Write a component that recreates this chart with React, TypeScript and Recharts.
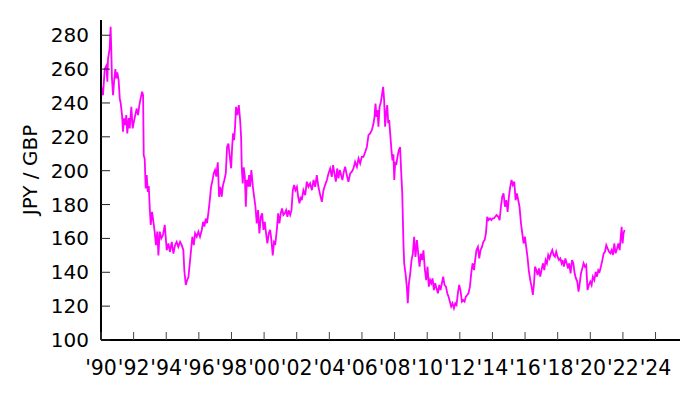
import { LineChart, Line, XAxis, YAxis, Label } from 'recharts';

// JPY per GBP
const years = [
  1990.0, 1990.02, 1990.12, 1990.23, 1990.33, 1990.39, 1990.43, 1990.53, 1990.59, 1990.63,
  1990.67, 1990.74, 1990.8, 1990.88, 1990.94, 1991.0, 1991.08, 1991.15, 1991.21, 1991.29,
  1991.35, 1991.41, 1991.49, 1991.55, 1991.61, 1991.7, 1991.76, 1991.86, 1991.94, 1992.02,
  1992.1, 1992.19, 1992.27, 1992.35, 1992.43, 1992.52, 1992.58, 1992.62, 1992.68, 1992.74,
  1992.8, 1992.87, 1992.93, 1992.99, 1993.05, 1993.13, 1993.21, 1993.29, 1993.37, 1993.45,
  1993.52, 1993.6, 1993.7, 1993.8, 1993.91,
  1994.03, 1994.13, 1994.23, 1994.34, 1994.44, 1994.54, 1994.64, 1994.74, 1994.85, 1994.95,
  1995.05, 1995.11, 1995.2, 1995.28, 1995.36, 1995.44, 1995.52, 1995.6, 1995.69, 1995.77,
  1995.87, 1995.97, 1996.07, 1996.18, 1996.26, 1996.34, 1996.42, 1996.5, 1996.58, 1996.67,
  1996.75, 1996.83, 1996.91, 1996.99, 1997.07, 1997.16, 1997.24, 1997.32, 1997.4, 1997.48,
  1997.56, 1997.65, 1997.73, 1997.81, 1997.9,
  1997.98, 1998.04, 1998.1, 1998.16, 1998.22, 1998.28, 1998.36, 1998.45, 1998.53, 1998.59,
  1998.63, 1998.69, 1998.75, 1998.82, 1998.88, 1998.94, 1999.02, 1999.08, 1999.14, 1999.22,
  1999.31, 1999.39, 1999.47, 1999.55, 1999.63, 1999.71, 1999.8, 1999.88, 1999.96, 2000.04,
  2000.12, 2000.2, 2000.29, 2000.37, 2000.45, 2000.53, 2000.61, 2000.69, 2000.78, 2000.86,
  2000.94, 2001.02, 2001.1, 2001.18, 2001.27, 2001.35, 2001.43, 2001.51, 2001.6, 2001.68,
  2001.76, 2001.84, 2001.92, 2002.01, 2002.09, 2002.17, 2002.25,
  2002.31, 2002.41, 2002.52, 2002.62, 2002.72, 2002.82, 2002.93, 2003.03, 2003.13, 2003.23,
  2003.33, 2003.44, 2003.54, 2003.64, 2003.74, 2003.85, 2003.95, 2004.05, 2004.15, 2004.23,
  2004.31, 2004.4, 2004.48, 2004.56, 2004.64, 2004.72, 2004.8, 2004.89, 2004.97, 2005.07,
  2005.17, 2005.28, 2005.38, 2005.48, 2005.58, 2005.69, 2005.79, 2005.89, 2005.99,
  2006.09, 2006.2, 2006.3, 2006.4, 2006.5, 2006.61, 2006.71, 2006.77, 2006.83, 2006.89,
  2006.95, 2007.01, 2007.08, 2007.16, 2007.24, 2007.3, 2007.36, 2007.42, 2007.48, 2007.55,
  2007.61, 2007.67, 2007.73, 2007.81, 2007.87, 2007.93, 2007.98, 2008.04, 2008.1, 2008.18,
  2008.26, 2008.34, 2008.4, 2008.47, 2008.51, 2008.55, 2008.59, 2008.67, 2008.75, 2008.81,
  2008.88, 2008.96, 2009.04, 2009.12, 2009.2, 2009.28, 2009.37, 2009.45, 2009.53, 2009.61,
  2009.69, 2009.77, 2009.86, 2009.94, 2010.02, 2010.1, 2010.18,
  2010.25, 2010.33, 2010.41, 2010.49, 2010.57, 2010.66, 2010.74, 2010.82, 2010.9, 2010.98,
  2011.06, 2011.15, 2011.23, 2011.31, 2011.39, 2011.47, 2011.55, 2011.64, 2011.72, 2011.8,
  2011.88, 2011.96, 2012.04, 2012.13, 2012.21, 2012.29, 2012.37, 2012.45, 2012.53, 2012.62,
  2012.7, 2012.78, 2012.87, 2012.94, 2013.02, 2013.11, 2013.19, 2013.27, 2013.36, 2013.44,
  2013.52, 2013.6, 2013.68, 2013.76, 2013.85, 2013.93, 2014.01, 2014.09, 2014.17, 2014.25,
  2014.36, 2014.44, 2014.52, 2014.6, 2014.68, 2014.77, 2014.85, 2014.93, 2015.01, 2015.09,
  2015.17, 2015.25, 2015.34, 2015.42, 2015.5, 2015.58, 2015.66, 2015.75, 2015.83, 2015.91,
  2015.99, 2016.07, 2016.15, 2016.23, 2016.32, 2016.4, 2016.48, 2016.55, 2016.61, 2016.69,
  2016.77, 2016.85, 2016.93, 2017.01, 2017.09, 2017.18, 2017.26, 2017.34, 2017.42, 2017.5,
  2017.59, 2017.67, 2017.75, 2017.83, 2017.91, 2017.99, 2018.08, 2018.16, 2018.24,
  2018.3, 2018.38, 2018.47, 2018.55, 2018.64, 2018.71, 2018.79, 2018.88, 2018.96, 2019.04,
  2019.12, 2019.2, 2019.28, 2019.34, 2019.43, 2019.51, 2019.59, 2019.67, 2019.75, 2019.83,
  2019.91, 2020.0, 2020.08, 2020.16, 2020.25, 2020.33, 2020.41, 2020.49, 2020.57, 2020.65,
  2020.74, 2020.82, 2020.9, 2020.98, 2021.06, 2021.15, 2021.23, 2021.31, 2021.39, 2021.47,
  2021.55, 2021.64, 2021.72, 2021.8, 2021.86, 2021.92, 2021.98, 2022.04, 2022.1,
];

const jpyPerGbp = [
  236, 249.5, 244.6, 260, 262, 252.5, 266, 272, 285, 272,
  254.5, 244.6, 252.5, 260, 254.5, 258, 253.5, 242.7, 239.7, 232.8,
  223, 230.9, 227, 232.8, 222, 231, 225, 237.7, 225, 229,
  232.8, 236.7, 232.8, 238.6, 242.7, 246.6, 244.6, 209, 207, 189.5,
  197.4, 187.5, 191, 177.7, 168, 175.7, 170, 164, 156, 164,
  150, 164, 160, 162, 168,
  153, 157, 152, 158, 151, 156, 158, 155, 158, 156,
  153, 141, 132.5, 135.4, 137, 145, 153, 161, 156, 163,
  161, 164, 161, 165, 169.8, 167, 171.7, 169, 174.8, 182.6,
  190.5, 194, 198.4, 200.4, 196.5, 205, 184.6, 190.5, 184.6, 191.5,
  194.4, 198.4, 214, 216, 208,
  201.4, 214, 222, 218, 226, 237.7, 232.8, 238.7, 229.9, 220,
  202, 192.5, 202, 196.4, 178.7, 194.5, 190.6, 197.4, 190.6, 200.4,
  190.6, 184.6, 178.7, 168.9, 176.7, 163, 172.8, 174.8, 165, 169.8,
  163, 157, 163, 165, 159, 150, 158, 157, 165, 174.8,
  168.9, 174.8, 177.7, 173.8, 174.8, 176.7, 172.8, 176.7, 173.8, 176.7,
  188.5, 191.5, 188.5, 190.5, 184.6, 180.7, 184.6,
  182.6, 188.5, 185.6, 193.5, 190.5, 192.5, 188.5, 194.5, 190.5, 197.4,
  190.5, 185.6, 181.6, 188.5, 191.5, 194.5, 198.4, 201.3, 196.4, 203.3,
  198.4, 193.5, 201.3, 195.5, 200.4, 197.4, 194.5, 199.4, 202.3, 197.4,
  193.5, 198.4, 199.4, 201.3, 205.2, 202.3, 207.2, 204.3, 208.2,
  208.2, 211, 214, 221, 222, 224, 228, 231.8, 239.7, 231.8,
  235.8, 226, 237.7, 240.6, 245.6, 249.5, 241.7, 226, 233.8, 238.7,
  228, 229.9, 222, 212, 206, 209.7, 194.5, 205.2, 203.3, 208.2,
  212.2, 214, 200.4, 186.6, 170.8, 155, 145.3, 139.4, 131.5, 121.7,
  133.5, 139.4, 147.2, 151, 161, 149, 159, 151, 143.3, 151,
  147.2, 153, 141.3, 135.4, 143.3, 131.5, 135.4,
  133.5, 136.4, 129.5, 133.5, 130.5, 127.6, 132.5, 129.5, 133.5, 137.4,
  132.5, 131.5, 127.6, 125.6, 122.7, 119.7, 121.7, 118.8, 121.7, 120.7,
  127.6, 132.5, 129.5, 122.7, 123.6, 122.7, 125.6, 126.6, 127.6, 131.5,
  139.4, 145.3, 141.3, 147.3, 153.1, 155, 148.2, 153.1, 155, 158,
  159, 163, 172.8, 170.8, 171.8, 170.8, 171.8, 171.8, 172.8, 173.8,
  172.8, 170.8, 178.7, 184.6, 186.6, 178.7, 182.6, 175.7, 184.6, 190.5,
  194.5, 191.5, 193.5, 182.6, 186.6, 182.6, 178.7, 168.9, 163, 157,
  161, 155, 149, 141, 135.4, 131.5, 126.6, 133.5, 143.3, 141.3,
  138.4, 142.3, 137.4, 141.3, 145.3, 141.3, 147.2, 145.3, 150.2, 148.2,
  151.2, 153.1, 150.2, 149.2, 152.1, 149.2, 147.2, 148.2, 145.3,
  147.2, 143.3, 148.2, 145.3, 142.3, 145.3, 139.4, 147.2, 145.3, 139.4,
  136.4, 134.5, 128.5, 132.5, 139.4, 142.3, 145.3, 143.3, 144.3, 129.5,
  132.5, 134.5, 132.5, 137.4, 135.4, 140.3, 137.4, 141.3, 140.3, 143.3,
  147.2, 151.2, 152.1, 156, 154.1, 152.1, 151.2, 153.1, 150.2, 157,
  151.2, 154.1, 157, 153.1, 160, 166.9, 157, 163, 165,
];

const yearTicks = [
  1990, 1992, 1994, 1996, 1998, 2000, 2002, 2004, 2006,
  2008, 2010, 2012, 2014, 2016, 2018, 2020, 2022, 2024,
];
const rateTicks = [100, 120, 140, 160, 180, 200, 220, 240, 260, 280];

const data = years.map((year, i) => ({ year, rate: jpyPerGbp[i] }));

const FONT = '"DejaVu Sans", sans-serif';

const XTick = ({ x, y, payload }: any) => (
  <g>
    <line x1={x} y1={y} x2={x} y2={y - 8} stroke="#444" strokeWidth={1} />
    <text x={x} y={y + 35} textAnchor="middle" fontSize={20.5} fontFamily={FONT} fill="#000">
      {`'${String(payload.value).slice(2)}`}
    </text>
  </g>
);

const YTick = ({ x, y, payload }: any) => (
  <g>
    <line x1={x} y1={y} x2={x + 9} y2={y} stroke="#222" strokeWidth={1} />
    <text x={x - 12} y={y + 7} textAnchor="end" fontSize={20} fontFamily={FONT} fill="#000">
      {payload.value}
    </text>
  </g>
);

const YTitle = ({ viewBox }: any) => {
  const cx = viewBox.x + 30;
  const cy = 170;
  return (
    <text
      x={cx}
      y={cy}
      transform={`rotate(-90, ${cx}, ${cy})`}
      textAnchor="middle"
      dominantBaseline="central"
      fontSize={20}
      fontFamily={FONT}
      fill="#000"
    >
      JPY / GBP
    </text>
  );
};

export default function App() {
  return (
    <div style={{ position: 'absolute', left: 0, top: 0, width: 700, height: 400, background: '#fff' }}>
      <LineChart width={700} height={400} data={data} margin={{ top: 20, right: 20, bottom: 0, left: 0 }}>
        <XAxis
          type="number"
          dataKey="year"
          domain={[1990, 2025.5]}
          ticks={yearTicks}
          interval={0}
          tickSize={0}
          tickMargin={0}
          tickLine={false}
          tick={<XTick />}
          height={60}
          axisLine={{ stroke: '#000', strokeWidth: 2 }}
          allowDataOverflow
        />
        <YAxis
          type="number"
          domain={[100, 289]}
          ticks={rateTicks}
          interval={0}
          tickSize={0}
          tickMargin={0}
          tickLine={false}
          tick={<YTick />}
          width={101}
          axisLine={{ stroke: '#000', strokeWidth: 2 }}
          allowDataOverflow
        >
          <Label content={<YTitle />} />
        </YAxis>
        <Line
          type="linear"
          dataKey="rate"
          stroke="#ff00ff"
          strokeWidth={1.8}
          dot={false}
          isAnimationActive={false}
        />
      </LineChart>
    </div>
  );
}
